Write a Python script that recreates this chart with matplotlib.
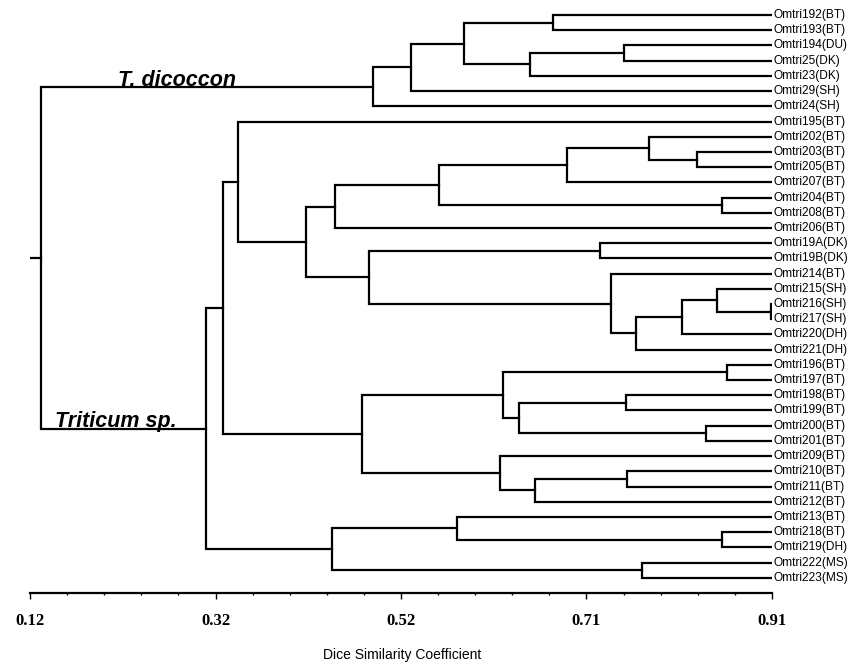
import numpy as np
import matplotlib
matplotlib.use("Agg")
import matplotlib.pyplot as plt
from matplotlib.ticker import FixedLocator

# leaf labels, top to bottom
leaves = ["Omtri192(BT)", "Omtri193(BT)", "Omtri194(DU)", "Omtri25(DK)", "Omtri23(DK)",
          "Omtri29(SH)", "Omtri24(SH)", "Omtri195(BT)", "Omtri202(BT)", "Omtri203(BT)",
          "Omtri205(BT)", "Omtri207(BT)", "Omtri204(BT)", "Omtri208(BT)", "Omtri206(BT)",
          "Omtri19A(DK)", "Omtri19B(DK)", "Omtri214(BT)", "Omtri215(SH)", "Omtri216(SH)",
          "Omtri217(SH)", "Omtri220(DH)", "Omtri221(DH)", "Omtri196(BT)", "Omtri197(BT)",
          "Omtri198(BT)", "Omtri199(BT)", "Omtri200(BT)", "Omtri201(BT)", "Omtri209(BT)",
          "Omtri210(BT)", "Omtri211(BT)", "Omtri212(BT)", "Omtri213(BT)", "Omtri218(BT)",
          "Omtri219(DH)", "Omtri222(MS)", "Omtri223(MS)"]

# linkage: (child a, child b, similarity); children < 38 are leaves, else earlier merges
merge_a = [0, 2, 39, 38, 41, 42, 9, 8, 45, 12, 46, 48, 15, 19, 18, 52, 53, 17, 50, 49,
           7, 23, 25, 27, 60, 59, 30, 64, 29, 63, 58, 34, 33, 36, 70, 68, 43]
merge_b = [1, 3, 4, 40, 5, 6, 10, 44, 11, 13, 47, 14, 16, 20, 51, 21, 22, 54, 55, 56,
           57, 24, 26, 28, 61, 62, 31, 32, 65, 66, 67, 35, 69, 37, 71, 72, 73]
merge_sim = [0.677, 0.752, 0.652, 0.582, 0.526, 0.485, 0.830, 0.779, 0.692, 0.857,
             0.555, 0.445, 0.727, 0.909, 0.851, 0.814, 0.765, 0.739, 0.481, 0.414,
             0.341, 0.862, 0.755, 0.840, 0.641, 0.624, 0.756, 0.658, 0.620, 0.473,
             0.325, 0.857, 0.575, 0.772, 0.442, 0.307, 0.132]

tick_vals = [0.12, 0.3175, 0.515, 0.7125, 0.91]
tick_labels = ["0.12", "0.32", "0.52", "0.71", "0.91"]

xmin, xmax = 0.12, 0.91

fig = plt.figure(figsize=(8.53, 6.66), dpi=100)
ax = fig.add_axes([30/853, 1 - 593/666, 742/853, 593/666])

n = len(leaves)
xs = [xmax]*n
ys = list(range(n))
lw = 1.6
for a, b, s in zip(merge_a, merge_b, merge_sim):
    ax.plot([xs[a], s, s, xs[b]], [ys[a], ys[a], ys[b], ys[b]], color="black", lw=lw,
            solid_joinstyle="miter")
    xs.append(s)
    ys.append((ys[a] + ys[b]) / 2)

# root stub
ax.plot([xmin, xs[-1]], [ys[-1], ys[-1]], color="black", lw=lw)

for i, lab in enumerate(leaves):
    ax.annotate(lab, (xmax, i), xytext=(1.0, 0), textcoords="offset points",
                va="center", ha="left", fontsize=8.6, family="Liberation Sans")

# group labels
dic = n + 5
tri = n + 35
ax.text(0.2137, ys[dic] - 0.08, "T. dicoccon", fontsize=15.5, fontweight="bold",
        fontstyle="italic", family="Liberation Sans", va="baseline", ha="left")
ax.text(0.1466, ys[tri] - 0.08, "Triticum sp.", fontsize=15.5, fontweight="bold",
        fontstyle="italic", family="Liberation Sans", va="baseline", ha="left")

ax.set_xlim(xmin, xmax)
ax.set_ylim(38.0, -0.99)
for sp in ["top", "left", "right"]:
    ax.spines[sp].set_visible(False)
ax.spines["bottom"].set_linewidth(1.6)
ax.set_yticks([])
ax.xaxis.set_major_locator(FixedLocator(tick_vals))
ax.xaxis.set_minor_locator(FixedLocator(np.linspace(xmin, xmax, 21)))
ax.set_xticklabels(tick_labels, family="Liberation Serif", fontweight="bold", fontsize=12)
ax.tick_params(axis="x", which="major", direction="out", length=4.5, width=1, pad=10)
ax.tick_params(axis="x", which="minor", direction="out", length=1.5, width=1)

fig.text(402/853, 1 - 655/666, "Dice Similarity Coefficient", ha="center", va="center",
         fontsize=10, family="Liberation Sans")

fig.savefig("out.png", dpi=100)
